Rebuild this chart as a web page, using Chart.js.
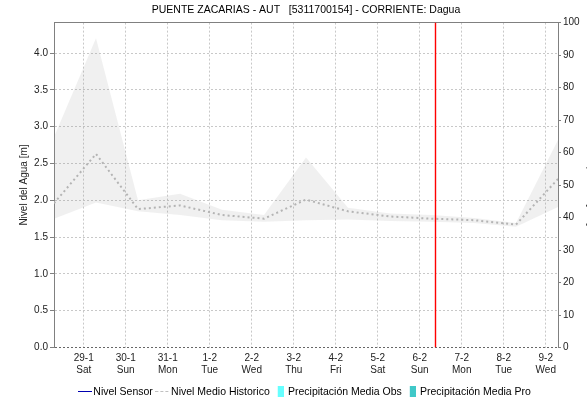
<!DOCTYPE html>
<html>
<head>
<meta charset="utf-8">
<title>PUENTE ZACARIAS - AUT</title>
<script src="https://cdn.jsdelivr.net/npm/chart.js@4.4.1/dist/chart.umd.min.js"></script>
<style>
  html, body { margin: 0; padding: 0; background: #fff; overflow: hidden; }
  .marco { width: 587px; height: 403px; overflow: hidden; }
</style>
</head>
<body>
<div class="marco"><canvas id="grafica" width="612" height="407"></canvas></div>
<script>
// Eje x: un rotulo por dia (medianoche), horas desde 29-1 00:00
const horasDia = [0, 24, 48, 72, 96, 120, 144, 168, 192, 216, 240, 264];
const etiquetasDia = ['29-1', '30-1', '31-1', '1-2', '2-2', '3-2', '4-2', '5-2', '6-2', '7-2', '8-2', '9-2'];
const etiquetasSemana = ['Sat', 'Sun', 'Mon', 'Tue', 'Wed', 'Thu', 'Fri', 'Sat', 'Sun', 'Mon', 'Tue', 'Wed'];

// Historico diario a las 07:00 (horas desde 29-1 00:00)
const horasHist = [-17, 7, 31, 55, 79, 103, 127, 151, 175, 199, 223, 247, 271];
const nivelMax = [2.86, 4.20, 2.00, 2.09, 1.87, 1.80, 2.58, 1.90, 1.82, 1.80, 1.76, 1.69, 2.82];
const nivelMedio = [1.96, 2.63, 1.88, 1.93, 1.80, 1.75, 2.01, 1.85, 1.78, 1.75, 1.73, 1.67, 2.29];
const nivelMin = [1.75, 1.97, 1.85, 1.80, 1.73, 1.71, 1.73, 1.74, 1.72, 1.71, 1.69, 1.64, 1.91];

// Series sin datos en el periodo
const nivelSensor = [];
const precipObs = [];
const precipPro = [];

// Hora actual: 6-2 09:00
const horaActual = 201;

// Ticks de los ejes
const ticksNivel = [0, 0.5, 1.0, 1.5, 2.0, 2.5, 3.0, 3.5, 4.0];
const ticksPrecip = [0, 10, 20, 30, 40, 50, 60, 70, 80, 90, 100];
const nivelTope = 4.414;
const horaInicio = -17;
const horaFin = 271;

Chart.defaults.font.family = "'Liberation Sans', Arial, sans-serif";
Chart.defaults.font.size = 10;
Chart.defaults.color = '#333';

const pares = (xs, ys) => ys.map((y, i) => ({ x: xs[i], y }));

// iconos de la leyenda
function icono(ancho, alto, pintar) {
    const c = document.createElement('canvas');
    c.width = ancho;
    c.height = alto;
    pintar(c.getContext('2d'));
    return c;
}
const iconos = [
    icono(14, 1, g => { g.fillStyle = '#0000b0'; g.fillRect(0, 0, 14, 1); }),
    icono(14, 1, g => { g.fillStyle = '#c0c0c0'; [0, 5, 10].forEach(x => g.fillRect(x, 0, 3, 1)); }),
    icono(9, 11, g => { g.fillStyle = '#66ffff'; g.fillRect(3, 0, 6, 11); }),
    icono(9, 11, g => { g.fillStyle = '#40c8c8'; g.fillRect(3, 0, 6, 11); })
];

const ctx = document.getElementById('grafica').getContext('2d');
const chart = new Chart(ctx, {
    type: 'line',
    data: {
        datasets: [
            {
                label: 'Nivel Sensor',
                data: pares([], nivelSensor),
                borderColor: '#0000b0',
                borderWidth: 1,
                pointRadius: 0,
                yAxisID: 'y'
            },
            {
                label: 'Nivel Medio Historico',
                data: pares(horasHist, nivelMedio),
                borderColor: '#b4b4b4',
                borderWidth: 2,
                borderDash: [2, 3],
                pointRadius: 0,
                fill: false,
                order: 2,
                yAxisID: 'y'
            },
            {
                type: 'bar',
                label: 'Precipitación Media Obs',
                data: pares([], precipObs),
                backgroundColor: '#66ffff',
                yAxisID: 'y2'
            },
            {
                type: 'bar',
                label: 'Precipitación Media Pro',
                data: pares([], precipPro),
                backgroundColor: '#40c8c8',
                yAxisID: 'y2'
            },
            {
                label: 'max',
                data: pares(horasHist, nivelMax),
                borderColor: 'transparent',
                borderWidth: 0,
                pointRadius: 0,
                fill: '+1',
                backgroundColor: 'rgba(150,150,150,0.14)',
                order: 3,
                yAxisID: 'y'
            },
            {
                label: 'min',
                data: pares(horasHist, nivelMin),
                borderColor: 'transparent',
                borderWidth: 0,
                pointRadius: 0,
                fill: false,
                order: 3,
                yAxisID: 'y'
            },
            {
                // linea vertical de la hora actual
                label: 'ahora',
                data: [{ x: horaActual, y: 0 }, { x: horaActual, y: nivelTope }],
                borderColor: 'rgb(255,0,0)',
                backgroundColor: 'rgb(255,0,0)',
                borderWidth: 1.4,
                borderDash: [],
                pointRadius: 0,
                fill: false,
                order: 1,
                yAxisID: 'y'
            }
        ]
    },
    options: {
        responsive: false,
        animation: false,
        events: [],
        layout: { padding: 0 },
        scales: {
            x: {
                type: 'linear',
                min: horaInicio,
                max: horaFin,
                offset: false,
                afterBuildTicks: s => { s.ticks = horasDia.map(v => ({ value: v })); },
                afterFit: s => { s.height = 33; },
                ticks: {
                    autoSkip: false,
                    maxRotation: 0,
                    padding: 5,
                    color: '#222',
                    callback: v => {
                        const i = horasDia.indexOf(v);
                        return [etiquetasDia[i], etiquetasSemana[i]];
                    }
                },
                grid: { color: '#c8c8c8', drawTicks: false, offset: false },
                border: { display: false, dash: [2, 2] }
            },
            y: {
                type: 'linear',
                position: 'left',
                min: 0,
                max: nivelTope,
                afterBuildTicks: s => { s.ticks = ticksNivel.map(v => ({ value: v })); },
                afterFit: s => { s.width = 54; },
                ticks: { padding: 2, color: '#222', callback: v => v.toFixed(1) },
                title: {
                    display: true,
                    text: 'Nivel del Agua [m]',
                    color: '#222',
                    font: { size: 10 },
                    padding: { top: 18, bottom: 0 }
                },
                grid: {
                    color: c => (c.tick && c.tick.value === 0 ? '#666' : '#c8c8c8'),
                    tickColor: '#808080',
                    tickLength: 4
                },
                border: { color: '#808080', dash: [2, 2] }
            },
            y2: {
                type: 'linear',
                position: 'right',
                min: 0,
                max: 100,
                afterBuildTicks: s => { s.ticks = ticksPrecip.map(v => ({ value: v })); },
                afterFit: s => { s.width = 54; },
                ticks: { padding: 2, color: '#222' },
                title: {
                    display: true,
                    text: 'Precipitación [mm]',
                    color: '#222',
                    font: { size: 10 },
                    padding: { top: 15, bottom: 0 }
                },
                grid: {
                    color: c => (c.tick && c.tick.value === 100 ? '#808080' : 'transparent'),
                    tickColor: '#808080',
                    tickLength: 3
                },
                border: { color: '#808080' }
            }
        },
        plugins: {
            title: {
                display: true,
                text: 'PUENTE ZACARIAS - AUT   [5311700154] - CORRIENTE: Dagua',
                color: '#000',
                font: { size: 10.5, weight: 'normal' },
                padding: { top: 4, bottom: 6 }
            },
            legend: {
                position: 'bottom',
                labels: {
                    usePointStyle: true,
                    pointStyleWidth: 7,
                    padding: 6,
                    color: '#000',
                    font: { size: 10.5 },
                    sort: (a, b) => a.datasetIndex - b.datasetIndex,
                    generateLabels: c => Chart.defaults.plugins.legend.labels.generateLabels(c)
                        .filter(l => l.datasetIndex < 4)
                        .map(l => ({ ...l, pointStyle: iconos[l.datasetIndex] }))
                }
            },
            tooltip: { enabled: false }
        }
    }
});
</script>
</body>
</html>
